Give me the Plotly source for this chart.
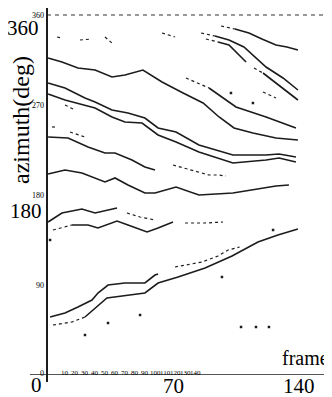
import plotly.graph_objects as go

# ---------------- data (frame, azimuth in degrees) ----------------
# track A (top right)
a_dot_frame = [96.7, 104.4]
a_dot_deg = [349, 346]
a_frame = [104.4, 112.2, 119.4, 127.2, 133.3, 139.4]
a_deg = [346, 342, 336, 330, 328, 325]

# track B
b_dot_frame = [85.6, 93.3]
b_dot_deg = [342, 339]
b_frame = [93.3, 101.1, 109.4, 121.7, 131.1, 139.4]
b_deg = [339, 335, 328, 308, 297, 285]

# track C (two pieces)
c1_dot_frame = [88.3, 95.0]
c1_dot_deg = [336, 333]
c1_frame = [95.0, 101.1, 110.6]
c1_deg = [333, 330, 313]
c2_dot_frame = [115.0, 120.0]
c2_dot_deg = [307, 302]
c2_frame = [120.0, 127.2, 139.4]
c2_deg = [302, 292, 275]

# track D (long, starting ~317)
d_frame = [0.6, 8.3, 17.2, 26.7, 36.1, 43.3, 53.3, 63.9, 75.6, 86.7, 95.6, 103.9, 114.4, 127.2, 139.4]
d_deg = [317, 313, 307, 305, 298, 300, 305, 293, 282, 272, 258, 247, 242, 237, 235]

# track D2 (starts dotted ~frame 77)
d2_dot_frame = [77.2, 90.0]
d2_dot_deg = [297, 287]
d2_frame = [90.0, 105.0, 121.7, 138.3]
d2_deg = [287, 268, 258, 247]

# track E
e_frame = [0.6, 10, 21.1, 26.7, 36.1, 45, 54.4, 61.7, 71.7, 84.4, 103.3, 121.7, 128.9, 138.3]
e_deg = [292, 287, 277, 273, 265, 262, 257, 247, 243, 230, 220, 220, 221, 218]

# track F
f_frame = [0.6, 10, 26.7, 36.1, 43.3, 52.8, 61.7, 71.7, 84.4, 103.3, 121.7, 128.9, 138.3]
f_deg = [281, 275, 267, 258, 253, 252, 240, 233, 223, 212, 215, 217, 213]

# track G
g_frame = [0.6, 11.7, 22.8, 32.2, 37.8, 47.2, 54.4, 60.0]
g_deg = [238, 237, 228, 222, 222, 215, 208, 205]
g_dot_frame = [70.0, 79.4, 90.0, 95.0, 99.4]
g_dot_deg = [210, 205, 200, 200, 199]

# track H
h_frame = [0.6, 10, 19.4, 26.7, 32.2, 37.8, 45, 54.4, 60, 71.7, 84.4, 103.3, 114.4, 127.2, 134.4]
h_deg = [201, 205, 202, 197, 193, 197, 190, 182, 182, 188, 180, 182, 185, 189, 190]

# track I
i_frame = [0.6, 8.3, 19.4, 26.7, 38.9]
i_deg = [153, 162, 166, 162, 167]
i_dot_frame = [44.4, 51.7, 60.0]
i_dot_deg = [162, 158, 155]

# track J
j_dot_frame = [3.3, 13.9]
j_dot_deg = [145, 150]
j_frame = [13.9, 22.8, 28.3, 38.9, 45, 55.6, 61.7, 70]
j_deg = [150, 150, 147, 154, 150, 143, 147, 153]
j2_dot_frame = [76.7, 87.8, 97.8]
j2_dot_deg = [152, 152, 153]

# track K (upper rising)
k_frame = [1.7, 10, 17.2, 25, 28.3, 33.9, 43.3, 54.4, 60, 61.7]
k_deg = [58, 62, 68, 75, 82, 90, 92, 92, 100, 101]
k_dot_frame = [71.1, 86.1, 95.0, 100.6, 107.0]
k_dot_deg = [108, 113, 119, 125, 128]

# track L (lower rising)
l_dot_frame = [3.3, 13.9, 21.1]
l_dot_deg = [50, 53, 58]
l_frame = [21.1, 27.8, 33.3, 41.7, 54.4, 61.7, 72.8, 87.8, 102.8, 117.2, 128.3, 139.4]
l_deg = [58, 68, 77, 79, 82, 92, 98, 107, 119, 133, 140, 146]

# short dotted fragments
frag_frames = [[5.6, 8.3], [18.3, 25.0], [32.2, 36.1], [63.9, 71.1], [2.8, 4.4],
               [12.8, 21.1], [10.0, 15.6], [120.0, 127.2]]
frag_degs = [[338, 337], [335, 336], [338, 332], [342, 338], [248, 248],
             [243, 238], [270, 265], [283, 277]]

# isolated detections
dot_frame = [21.1, 33.9, 51.7, 97.2, 107.8, 116.1, 123.3, 125.6, 102.2, 114.4, 1.7]
dot_deg = [40, 52, 60, 98, 48, 48, 48, 145, 282, 272, 135]

# axis labels
y_small_ticks = [0, 90, 180, 270, 360]
x_small_ticks = [10, 20, 30, 40, 50, 60, 70, 80, 90, 100, 110, 120, 130, 140]
x_big_ticks = [70, 140]

# ---------------- figure geometry ----------------
# The page body has an 8px default margin, so the figure is drawn 8px in
# from the window's top-left corner; geometry below is in window pixels.
OFF = 8
WIN_W, WIN_H = 332, 397
AX_X = 47        # window x of the y axis (frame 0)
AX_Y = 375       # window y of the x axis (0 deg)
PX_PER_FRAME = 1.8
FW, FH = WIN_W - OFF, WIN_H - OFF
L = AX_X - OFF
W = WIN_W - AX_X
H = AX_Y - OFF
B = FH - H

INK = "#1c1c1c"
SERIF = "Liberation Serif, Times New Roman, serif"

fig = go.Figure()


def add(xs, ys, dash="solid", width=1.6):
    fig.add_trace(go.Scatter(x=xs, y=ys, mode="lines",
                             line=dict(color=INK, width=width, dash=dash),
                             hoverinfo="skip", showlegend=False))


solid = [(a_frame, a_deg), (b_frame, b_deg), (c1_frame, c1_deg), (c2_frame, c2_deg),
         (d_frame, d_deg), (d2_frame, d2_deg), (e_frame, e_deg), (f_frame, f_deg),
         (g_frame, g_deg), (h_frame, h_deg), (i_frame, i_deg), (j_frame, j_deg),
         (k_frame, k_deg), (l_frame, l_deg)]
dotted = [(a_dot_frame, a_dot_deg), (b_dot_frame, b_dot_deg), (c1_dot_frame, c1_dot_deg),
          (c2_dot_frame, c2_dot_deg), (d2_dot_frame, d2_dot_deg), (g_dot_frame, g_dot_deg),
          (i_dot_frame, i_dot_deg), (j_dot_frame, j_dot_deg), (j2_dot_frame, j2_dot_deg),
          (k_dot_frame, k_dot_deg), (l_dot_frame, l_dot_deg)]
dotted += list(zip(frag_frames, frag_degs))

for xs, ys in solid:
    add(xs, ys, "solid", 1.6)
for xs, ys in dotted:
    add(xs, ys, "dot", 1.2)

fig.add_trace(go.Scatter(x=dot_frame, y=dot_deg, mode="markers",
                         marker=dict(color=INK, size=2.5, symbol="square"),
                         hoverinfo="skip", showlegend=False))


def px_x(px):
    return (px - AX_X) / W


def px_y(py):
    return (AX_Y - py) / H


shapes = [
    dict(type="line", xref="paper", yref="y", x0=0, x1=1, y0=360, y1=360,
         line=dict(color="#333", width=1.2, dash="4px,4px")),
    dict(type="line", xref="paper", yref="y", x0=px_x(30), x1=1, y0=0, y1=0,
         line=dict(color=INK, width=1.5)),
    dict(type="line", xref="paper", yref="paper", x0=0, x1=0, y0=px_y(382), y1=1,
         line=dict(color=INK, width=2)),
]

ann = []
for v in y_small_ticks:
    ann.append(dict(x=0, xref="paper", y=v, yref="y", text=str(v), showarrow=False,
                    xanchor="right", yanchor="middle", xshift=-1, yshift=2 if v == 0 else 0,
                    font=dict(family=SERIF, size=8, color="#000")))
for v in x_small_ticks:
    ann.append(dict(x=(v + 8) / PX_PER_FRAME, xref="x", y=0, yref="y", text=str(v),
                    showarrow=False, xanchor="center", yanchor="middle", yshift=2,
                    font=dict(family=SERIF, size=7, color="#000")))
for v in x_big_ticks:
    ann.append(dict(x=v, xref="x", y=px_y(386), yref="paper", text=str(v), showarrow=False,
                    xanchor="center", yanchor="middle",
                    font=dict(family=SERIF, size=21, color="#000")))
big = [("0", 36, 385), ("360", 23, 28), ("180", 26, 211), ("frame", 305, 358)]
for t, bx, by in big:
    ann.append(dict(x=px_x(bx), xref="paper", y=px_y(by), yref="paper", text=t,
                    showarrow=False, xanchor="center", yanchor="middle",
                    font=dict(family=SERIF, size=21 if t != "frame" else 20, color="#000")))
ann.append(dict(x=px_x(21), xref="paper", y=px_y(120), yref="paper", text="azimuth(deg)",
                showarrow=False, textangle=-90, xanchor="center", yanchor="middle",
                font=dict(family=SERIF, size=24, color="#000")))

fig.update_layout(
    width=FW, height=FH,
    margin=dict(l=L, r=0, t=0, b=B, pad=0),
    paper_bgcolor="white", plot_bgcolor="white",
    xaxis=dict(range=[0, W / PX_PER_FRAME], showgrid=False, zeroline=False, showline=False,
               showticklabels=False, ticks=""),
    yaxis=dict(range=[0, H], showgrid=False, zeroline=False, showline=False,
               showticklabels=False, ticks=""),
    shapes=shapes, annotations=ann, showlegend=False,
)

fig.write_html("out.html")
